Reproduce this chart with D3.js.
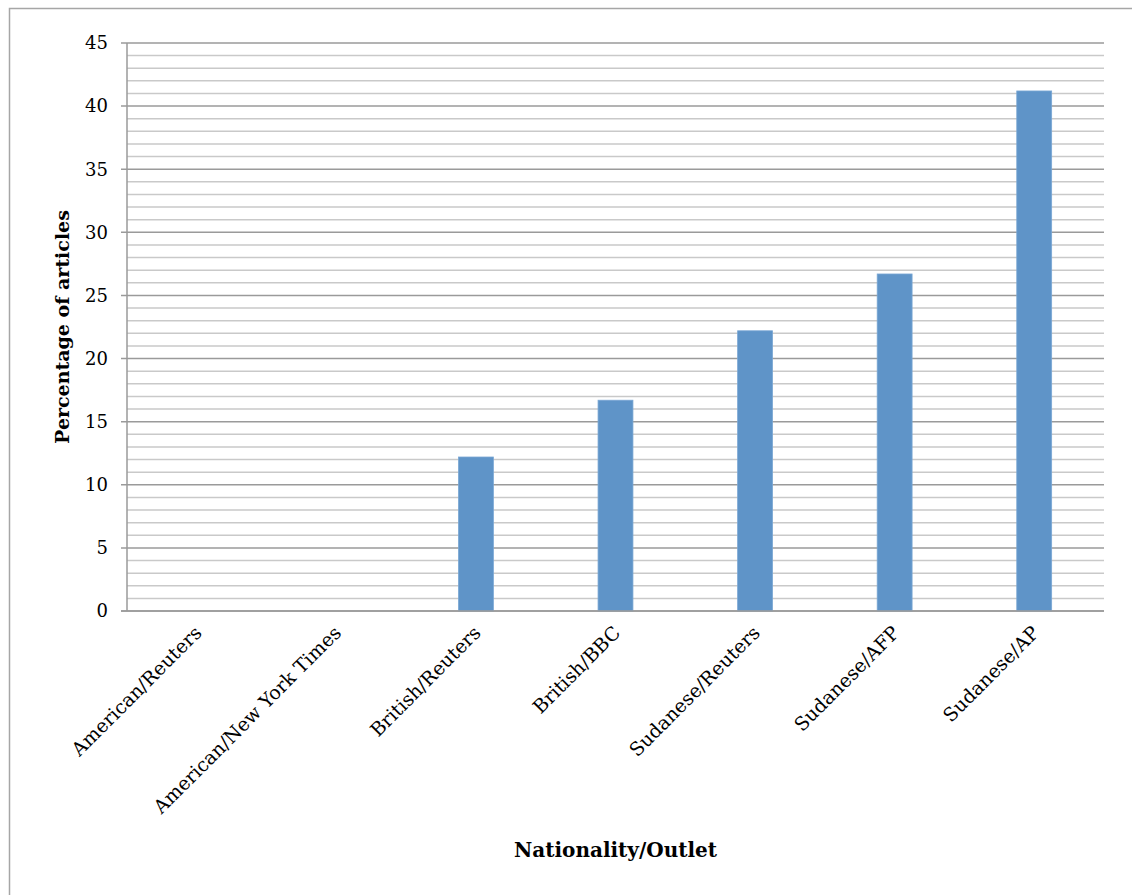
<!DOCTYPE html>
<html>
<head>
<meta charset="utf-8">
<script src="https://cdn.jsdelivr.net/npm/d3@7"></script>
<style>
  body { margin: 0; background: #fff; }
  svg { display: block; font-family: "DejaVu Serif", "Liberation Serif", serif; }
</style>
</head>
<body>
<svg id="chart" width="1132" height="895"></svg>
<script>
// data
var categories = ["American/Reuters", "American/New York Times", "British/Reuters",
                  "British/BBC", "Sudanese/Reuters", "Sudanese/AFP", "Sudanese/AP"];
var values = [0, 0, 12.2, 16.7, 22.2, 26.7, 41.2];
var yTicks = [0, 5, 10, 15, 20, 25, 30, 35, 40, 45];

function draw() {
    var svg = d3.select("#chart");
    var pLeft = 127, pRight = 1104, pTop = 43, pBottom = 611;

    // outer frame
    svg.append("rect")
        .attr("x", 9.5).attr("y", 8.5)
        .attr("width", 1140).attr("height", 900)
        .attr("fill", "none").attr("stroke", "#a6a6a6").attr("stroke-width", 1.5);

    var x = d3.scaleBand().domain(categories).range([pLeft, pRight]);
    var y = d3.scaleLinear().domain([0, 45]).range([pBottom, pTop]);

    // minor gridlines every 1
    var minor = d3.range(1, 46).filter(function(v) { return v % 5 != 0; });
    svg.append("g").selectAll("line").data(minor).enter().append("line")
        .attr("x1", pLeft).attr("x2", pRight)
        .attr("y1", function(d) { return y(d); }).attr("y2", function(d) { return y(d); })
        .attr("stroke", "#c9c9c9").attr("stroke-width", 1.5);

    // major gridlines
    svg.append("g").selectAll("line").data(yTicks).enter().append("line")
        .attr("x1", pLeft - 6).attr("x2", pRight)
        .attr("y1", function(d) { return y(d); }).attr("y2", function(d) { return y(d); })
        .attr("stroke", "#9a9a9a").attr("stroke-width", 1.5);

    // y axis line
    svg.append("line")
        .attr("x1", pLeft).attr("x2", pLeft)
        .attr("y1", pTop).attr("y2", pBottom)
        .attr("stroke", "#9a9a9a").attr("stroke-width", 1.5);

    // bars
    var bw = x.bandwidth() * 0.25;
    svg.append("g").selectAll("rect").data(values).enter().append("rect")
        .attr("x", function(d, i) { return x(categories[i]) + x.bandwidth() / 2 - bw / 2; })
        .attr("y", function(d) { return y(d); })
        .attr("width", bw)
        .attr("height", function(d) { return y(0) - y(d); })
        .attr("fill", "#5f94c8")
        .attr("stroke", "#7aa7d4").attr("stroke-width", 0.8);

    // baseline over the bars
    svg.append("line")
        .attr("x1", pLeft - 6).attr("x2", pRight)
        .attr("y1", y(0)).attr("y2", y(0))
        .attr("stroke", "#9a9a9a").attr("stroke-width", 1.5);

    // y tick labels
    svg.append("g").selectAll("text").data(yTicks).enter().append("text")
        .attr("x", 108)
        .attr("y", function(d) { return y(d); })
        .attr("dy", "0.35em")
        .attr("text-anchor", "end")
        .attr("font-size", 18)
        .attr("fill", "#000")
        .text(function(d) { return d; });

    // x tick labels, rotated
    svg.append("g").selectAll("text").data(categories).enter().append("text")
        .attr("transform", function(d) {
            return "translate(" + (x(d) + x.bandwidth() / 2 + 6) + "," + 634 + ") rotate(-45)";
        })
        .attr("text-anchor", "end")
        .attr("font-size", 19)
        .attr("fill", "#000")
        .text(function(d) { return d; });

    // axis titles
    svg.append("text")
        .attr("x", (pLeft + pRight) / 2).attr("y", 857)
        .attr("text-anchor", "middle")
        .attr("font-size", 20).attr("font-weight", "bold")
        .text("Nationality/Outlet");

    svg.append("text")
        .attr("transform", "translate(69," + ((pTop + pBottom) / 2) + ") rotate(-90)")
        .attr("text-anchor", "middle")
        .attr("font-size", 19).attr("font-weight", "bold")
        .text("Percentage of articles");
}

draw();
</script>
</body>
</html>
